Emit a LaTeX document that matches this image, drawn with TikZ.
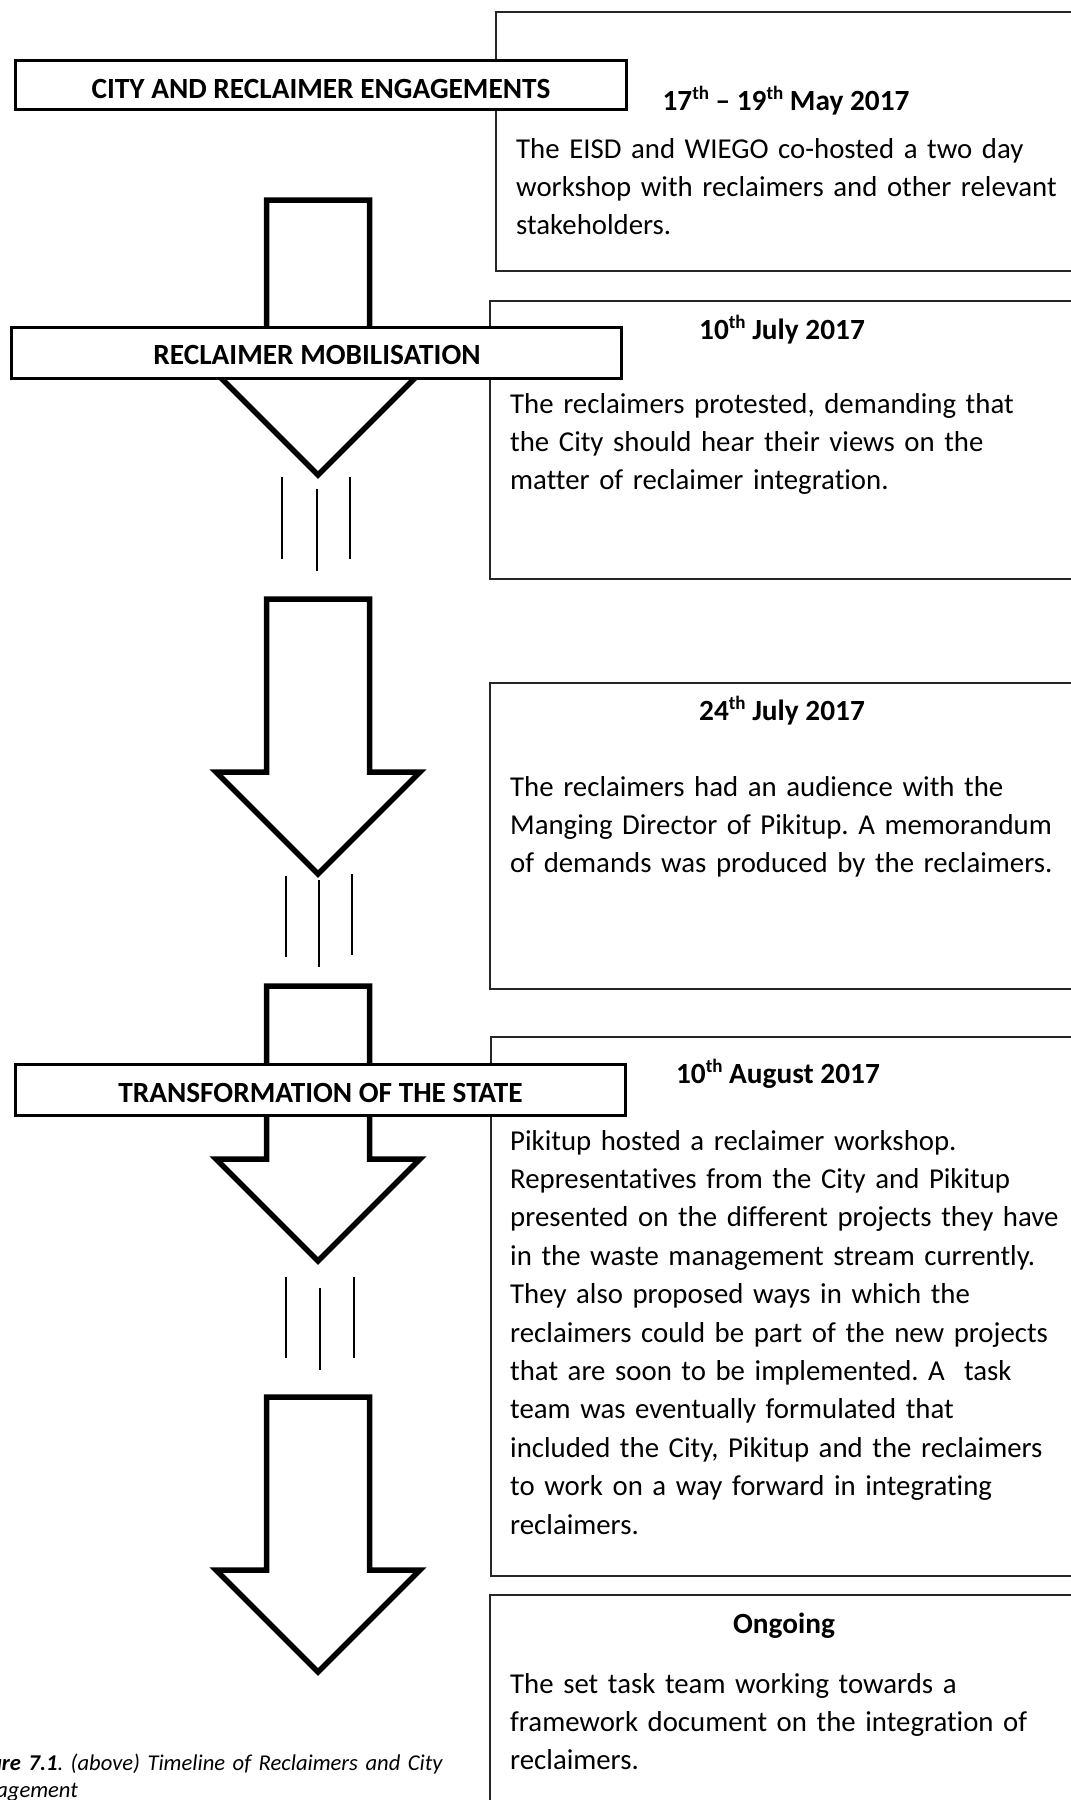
\documentclass[tikz,border=0pt]{standalone}
\usepackage{fontspec}
\setmainfont{Carlito}[Ligatures=NoCommon]
% ordinal suffix, raised and reduced
\newcommand\ordsup[1]{\raisebox{0.36em}{\fontsize{19}{19}\selectfont #1}}
% block arrow pointing down; #1 = top of the shaft
\newcommand\downblock[1]{%
  \draw[blockarrow] (266.5,#1) -- (369.5,#1) -- (369.5,#1+173) -- (420,#1+173)
    -- (318,#1+275) -- (216,#1+173) -- (266.5,#1+173) -- cycle;}
\begin{document}
\frenchspacing
\begin{tikzpicture}[x=1pt,y=-1pt,
  panel/.style={draw=black!85, line width=1.3pt, fill=white},
  banner/.style={draw=black, line width=3pt, fill=white},
  blockarrow/.style={draw=black, line width=5.5pt, fill=white, line join=miter, miter limit=10},
  tick/.style={draw=black, line width=1.3pt},
  datetext/.style={font=\fontsize{29.3}{38.4}\selectfont\bfseries, inner sep=0pt, anchor=base},
  bannertext/.style={font=\fontsize{29.3}{38.4}\selectfont\bfseries, inner sep=0pt, anchor=base},
  bodytext/.style={font=\fontsize{28.8}{38.4}\selectfont, inner sep=0pt, anchor=base west,
    text width=600pt, align=left},
  captext/.style={font=\fontsize{22.6}{27}\selectfont\itshape, inner sep=0pt, anchor=base west,
    text width=600pt, align=left},
]
\useasboundingbox (0,0) rectangle (1071,1800);
\fill[white] (0,0) rectangle (1071,1800);
\clip (0,0) rectangle (1071,1800);

% ---- event panels on the right
\draw[panel] (496,12) rectangle (1076,271);
\draw[panel] (490,301) rectangle (1076,579);
\draw[panel] (490,683) rectangle (1076,989);
\draw[panel] (491,1037) rectangle (1076,1576);
\draw[panel] (490,1595) rectangle (1076,1820);

\node[datetext] (dateA) at (786,110) {17\ordsup{th} – 19\ordsup{th} May 2017};
\node[bodytext] (bodyA) at (516,158) {The EISD and WIEGO co-hosted a two day\\
workshop with reclaimers and other relevant\\
stakeholders.};

\node[datetext] (dateB) at (782,339) {10\ordsup{th} July 2017};
\node[bodytext] (bodyB) at (510,413) {The reclaimers protested, demanding that\\
the City should hear their views on the\\
matter of reclaimer integration.};

\node[datetext] (dateC) at (782,720) {24\ordsup{th} July 2017};
\node[bodytext] (bodyC) at (510,796) {The reclaimers had an audience with the\\
Manging Director of Pikitup. A memorandum\\
of demands was produced by the reclaimers.};

\node[datetext] (dateD) at (778,1083) {10\ordsup{th} August 2017};
\node[bodytext] (bodyD) at (510,1150) {Pikitup hosted a reclaimer workshop.\\
Representatives from the City and Pikitup\\
presented on the different projects they have\\
in the waste management stream currently.\\
They also proposed ways in which the\\
reclaimers could be part of the new projects\\
that are soon to be implemented. A\ \ task\\
team was eventually formulated that\\
included the City, Pikitup and the reclaimers\\
to work on a way forward in integrating\\
reclaimers.};

\node[datetext] (dateE) at (784,1633) {Ongoing};
\node[bodytext] (bodyE) at (510,1693) {The set task team working towards a\\
framework document on the integration of\\
reclaimers.};

% ---- downward block arrows
\downblock{200}
\downblock{599}
\downblock{986}
\downblock{1397}

% ---- broken-line gaps between arrows
\draw[tick] (282,477) -- (282,559);
\draw[tick] (317,489) -- (317,571);
\draw[tick] (350,477) -- (350,559);

\draw[tick] (286,876) -- (286,957);
\draw[tick] (319,880) -- (319,967);
\draw[tick] (352,874) -- (352,955);

\draw[tick] (286,1277) -- (286,1358);
\draw[tick] (320,1288) -- (320,1370);
\draw[tick] (354,1277) -- (354,1358);

% ---- phase banners on the left
\draw[banner] (15.5,60.5) rectangle (626.5,109.5);
\node[bannertext] (phase1) at (321,98) {CITY AND RECLAIMER ENGAGEMENTS};

\draw[banner] (11.5,327.5) rectangle (621.5,378.5);
\node[bannertext] (phase2) at (317,364) {RECLAIMER MOBILISATION};

\draw[banner] (15.5,1064.5) rectangle (625.5,1115.5);
\node[bannertext] (phase3) at (320.5,1102) {TRANSFORMATION OF THE STATE};

% ---- caption
\node[captext] (caption) at (-38,1770) {\textbf{Figure 7.1}. (above) Timeline of Reclaimers and City\\
Engagement};
\end{tikzpicture}
\end{document}
